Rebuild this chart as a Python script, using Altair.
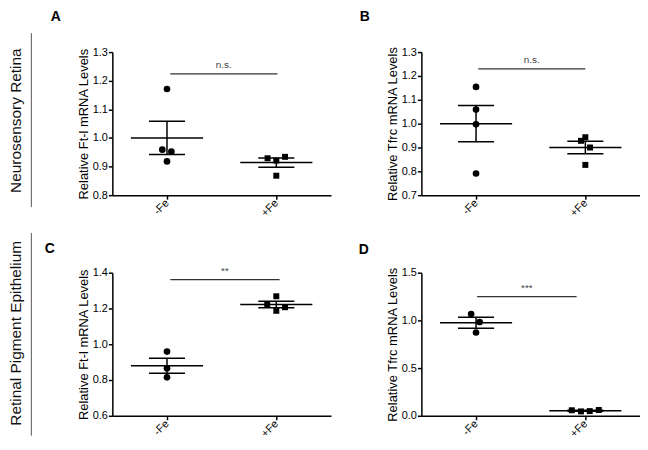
import altair as alt
import pandas as pd

# ---------------- data ----------------
GROUPS = ["-Fe", "+Fe"]
PANEL_LETTERS = ["A", "B", "C", "D"]
ROW_LABELS = ["Neurosensory Retina", "Retinal Pigment Epithelium"]
Y_TITLES = ["Relative Ft-l mRNA Levels", "Relative Tfrc mRNA Levels",
            "Relative Ft-l mRNA Levels", "Relative Tfrc mRNA Levels"]
Y_DOMAINS = [[0.8, 1.3], [0.7, 1.3], [0.6, 1.4], [0.0, 1.5]]
Y_TICKS = [[0.8, 0.9, 1.0, 1.1, 1.2, 1.3],
           [0.7, 0.8, 0.9, 1.0, 1.1, 1.2, 1.3],
           [0.6, 0.8, 1.0, 1.2, 1.4],
           [0.0, 0.5, 1.0, 1.5]]

NEG_VALUES = [[1.171, 0.959, 0.952, 0.918],
              [1.154, 1.059, 0.997, 0.791],
              [0.959, 0.866, 0.815],
              [1.066, 0.983, 0.873]]
NEG_JITTER = [[0.0, -0.043, 0.040, 0.0],
              [0.0, 0.0, 0.0, 0.0],
              [0.0, 0.0, 0.0],
              [-0.045, 0.033, 0.0]]
POS_VALUES = [[0.929, 0.921, 0.934, 0.868],
              [0.928, 0.943, 0.900, 0.827],
              [1.268, 1.224, 1.187, 1.207],
              [0.058, 0.046, 0.049, 0.061]]
POS_JITTER = [[-0.080, 0.0, 0.080, 0.0],
              [-0.040, 0.0, 0.043, 0.0],
              [0.0, -0.083, 0.0, 0.080],
              [-0.124, -0.040, 0.040, 0.123]]
MEANS = [[1.000, 0.914], [1.000, 0.900], [0.880, 1.222], [0.975, 0.053]]
SEMS = [[0.058, 0.016], [0.076, 0.026], [0.042, 0.018], [0.058, 0.005]]

SIG_Y = [1.224, 1.230, 1.361, 1.249]
SIG_X1 = [1.03, 1.02, 1.03, 1.01]
SIG_X2 = [2.01, 2.00, 2.03, 1.92]
SIG_TEXT = ["n.s.", "n.s.", "**", "***"]

# ---------------- styling ----------------
FONT = "Liberation Sans"
PANEL_W, PANEL_H = 220, 144
MEAN_HALF, CAP_HALF = 0.33, 0.165
LETTER_DX = [-62, -62, -68, -63]
LETTER_OFFSET = [22, 22, 10, 10]
ROW_TEXT_Y = [69, 61]
ROW_LINE_Y = [[-19, 156], [-40, 164]]

label_expr = "[" + ",".join("'%s'" % g for g in GROUPS) + "][datum.value - 1]"


def panel(i):
    xs = alt.Scale(domain=[0.5, 2.5], nice=False, zero=False)
    ys = alt.Scale(domain=Y_DOMAINS[i], nice=False, zero=False)
    xaxis = alt.Axis(values=[1, 2], labelExpr=label_expr, labelAngle=315,
                     labelAlign="right", labelBaseline="middle", title=None,
                     grid=False, tickSize=4, labelPadding=2, labelFontSize=11)
    yaxis = alt.Axis(values=Y_TICKS[i], format=".1f", title=Y_TITLES[i],
                     grid=False, tickSize=4, labelPadding=1, labelFontSize=11,
                     titleFontSize=13, titleFontWeight="normal", titlePadding=2)

    def X(f):
        return alt.X(f + ":Q", scale=xs, axis=xaxis)

    def Y(f):
        return alt.Y(f + ":Q", scale=ys, axis=yaxis)

    neg = pd.DataFrame({"x": [1 + j for j in NEG_JITTER[i]], "y": NEG_VALUES[i]})
    pos = pd.DataFrame({"x": [2 + j for j in POS_JITTER[i]], "y": POS_VALUES[i]})

    means = pd.DataFrame({
        "x": [k + 1 - MEAN_HALF for k in range(2)],
        "x2": [k + 1 + MEAN_HALF for k in range(2)],
        "y": MEANS[i],
    })
    caps_rows = []
    vert_rows = []
    for k in range(2):
        m, s = MEANS[i][k], SEMS[i][k]
        for yy in (m - s, m + s):
            caps_rows.append({"x": k + 1 - CAP_HALF, "x2": k + 1 + CAP_HALF, "y": yy})
        vert_rows.append({"x": k + 1, "y": m - s, "y2": m + s})
    caps = pd.DataFrame(caps_rows)
    verts = pd.DataFrame(vert_rows)
    sig = pd.DataFrame({"x": [SIG_X1[i]], "x2": [SIG_X2[i]], "y": [SIG_Y[i]],
                        "xm": [(SIG_X1[i] + SIG_X2[i]) / 2], "label": [SIG_TEXT[i]]})

    l_circ = alt.Chart(neg).mark_point(filled=True, shape="circle", size=45,
                                       color="black", opacity=1).encode(x=X("x"), y=Y("y"))
    l_sq = alt.Chart(pos).mark_point(filled=True, shape="square", size=36,
                                     color="black", opacity=1).encode(x=X("x"), y=Y("y"))
    l_mean = alt.Chart(means).mark_rule(color="black", strokeWidth=1.5).encode(
        x=X("x"), x2="x2:Q", y=Y("y"))
    l_caps = alt.Chart(caps).mark_rule(color="black", strokeWidth=1.5).encode(
        x=X("x"), x2="x2:Q", y=Y("y"))
    l_vert = alt.Chart(verts).mark_rule(color="black", strokeWidth=1.5).encode(
        x=X("x"), y=Y("y"), y2="y2:Q")
    l_sig = alt.Chart(sig).mark_rule(color="#333", strokeWidth=1.3).encode(
        x=X("x"), x2="x2:Q", y=Y("y"))
    l_sigt = alt.Chart(sig).mark_text(dy=-9, fontSize=10, color="#444", font=FONT).encode(
        x=X("xm"), y=Y("y"), text="label:N")

    return alt.layer(l_mean, l_caps, l_vert, l_sig, l_sigt, l_circ, l_sq).properties(
        width=PANEL_W, height=PANEL_H,
        title=alt.TitleParams(text=PANEL_LETTERS[i], anchor="start", frame="group",
                              dx=LETTER_DX[i], offset=LETTER_OFFSET[i], fontSize=14,
                              fontWeight="bold", font=FONT, color="black"))


def row_label(r):
    df = pd.DataFrame({"label": [ROW_LABELS[r]]})
    txt = alt.Chart(df).mark_text(angle=270, fontSize=15.5, font=FONT, color="#111",
                                  align="center", baseline="middle").encode(
        x=alt.value(8), y=alt.value(ROW_TEXT_Y[r]), text="label:N")
    line = alt.Chart(df).mark_rule(color="#555", strokeWidth=1).encode(
        x=alt.value(23.5), y=alt.value(ROW_LINE_Y[r][0]), y2=alt.value(ROW_LINE_Y[r][1]))
    return alt.layer(txt, line).properties(width=14, height=PANEL_H)


chart = alt.ConcatChart(
    concat=[row_label(0), panel(0), panel(1), row_label(1), panel(2), panel(3)],
    columns=3,
    spacing={"row": 78, "column": 91},
    bounds="flush",
).properties(
    padding=0
).configure_view(stroke=None).configure_axis(
    labelFont=FONT, titleFont=FONT, labelColor="black", titleColor="black",
    domainColor="black", tickColor="black", domainWidth=1.5, tickWidth=1.5
)

chart.save("out.html", embed_options={"renderer": "svg", "actions": False})
